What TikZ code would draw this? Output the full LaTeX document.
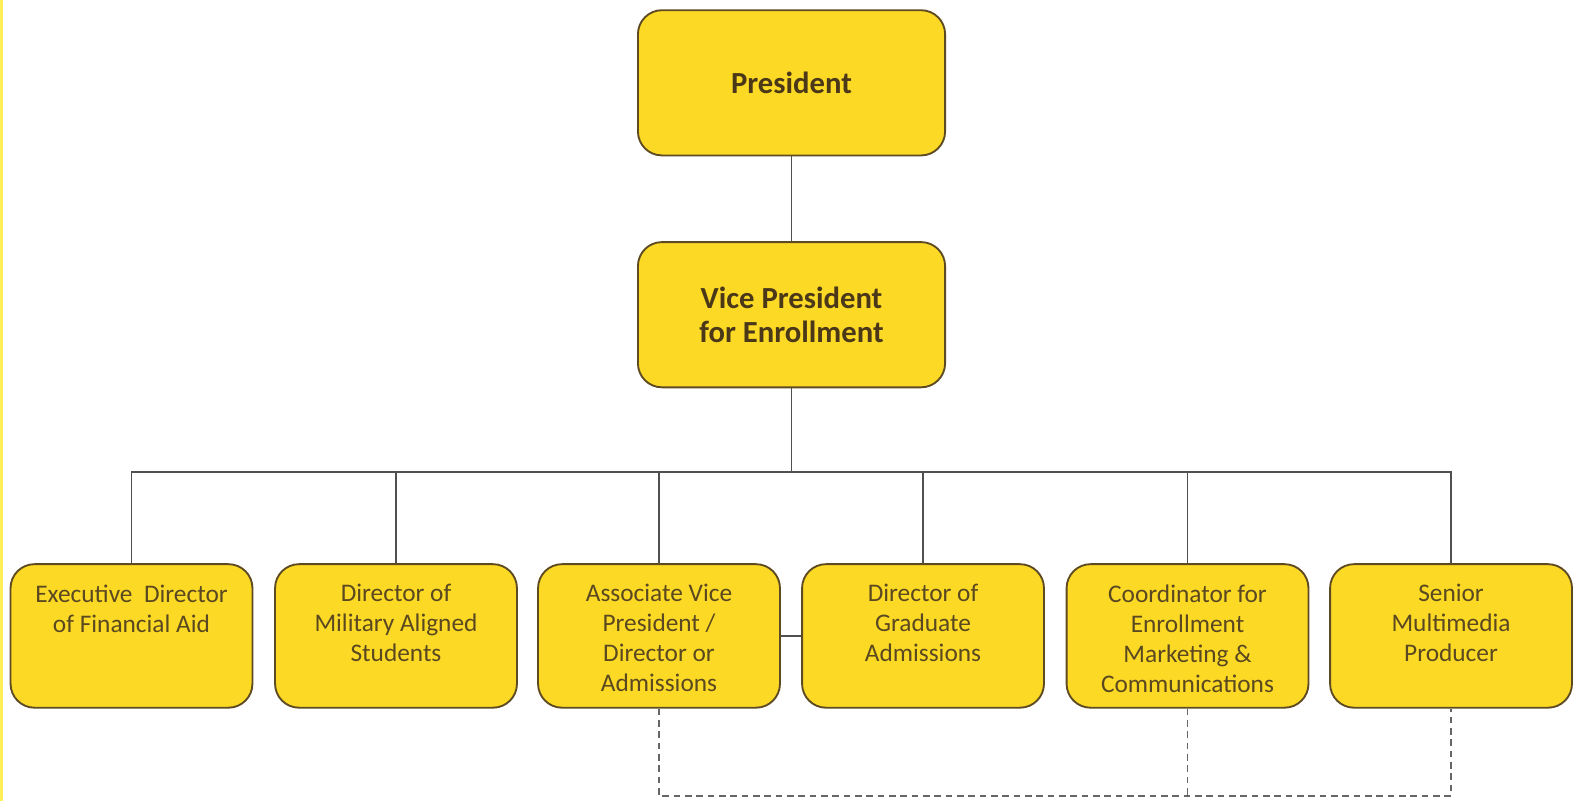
\documentclass[tikz,border=0pt]{standalone}
\usepackage{fontspec}
\setmainfont{Carlito}
\definecolor{boxfill}{HTML}{FCD925}
\definecolor{boxline}{HTML}{5E4B22}
\definecolor{connline}{HTML}{505050}
\definecolor{dashline}{HTML}{666666}
\definecolor{txtdark}{HTML}{4A3818}
\definecolor{txtsub}{HTML}{5A4820}
\definecolor{edgeyel}{HTML}{FFEE55}
\begin{document}
\begin{tikzpicture}[x=0.75bp,y=-0.75bp,
  box/.style={draw=boxline, line width=1.4pt, fill=boxfill, rounded corners=18pt, inner sep=0pt},
  bigbox/.style={box, minimum width=229.5bp, minimum height=108.5bp},
  smallbox/.style={box, minimum width=180.75bp, minimum height=107.25bp},
  conn/.style={draw=connline, line width=1.1pt},
  dconn/.style={draw=dashline, line width=1.1pt, dash pattern=on 5pt off 3.5pt},
  toptext/.style={font=\bfseries\fontsize{23}{25.5}\selectfont, text=txtdark, align=center},
  subtext/.style={font=\fontsize{19}{22.5}\selectfont, text=txtsub, align=center, anchor=north, inner sep=0pt}]
\useasboundingbox (0,0) rectangle (1569,798);
\fill[edgeyel] (0,0) rectangle (3,798);

\node[bigbox, toptext] (pres) at (788.5,82.5) {President};
\node[bigbox, toptext] (vp) at (788.5,313.5) {Vice President\\for Enrollment};

\node[smallbox] (b1) at (131,633.5) {};
\node[smallbox] (b2) at (394.5,633.5) {};
\node[smallbox] (b3) at (656.5,633.5) {};
\node[smallbox] (b4) at (919.5,633.5) {};
\node[smallbox] (b5) at (1183,633.5) {};
\node[smallbox] (b6) at (1445.5,633.5) {};

\node[subtext] (t1) at (131,582) {Executive\ \ Director\\of Financial Aid};
\node[subtext] (t2) at (394.5,582) {Director of\\Military Aligned\\Students};
\node[subtext] (t3) at (656.5,582) {Associate Vice\\President /\\Director or\\Admissions};
\node[subtext] (t4) at (919.5,582) {Director of\\Graduate\\Admissions};
\node[subtext] (t5) at (1183,582) {Coordinator for\\Enrollment\\Marketing \&\\Communications};
\node[subtext] (t6) at (1445.5,582) {Senior\\Multimedia\\Producer};

\coordinate (bus) at (788.5,470);
\coordinate (dl) at (788.5,793);

\draw[conn] (pres.south) -- (vp.north);
\draw[conn] (vp.south) -- (bus);
\draw[conn] (b1.north) -- (b1.north |- bus) -- (b6.north |- bus) -- (b6.north);
\draw[conn] (b2.north) -- (b2.north |- bus);
\draw[conn] (b3.north) -- (b3.north |- bus);
\draw[conn] (b4.north) -- (b4.north |- bus);
\draw[conn] (b5.north) -- (b5.north |- bus);
\draw[conn] (b3.east) -- (b4.west);

\draw[dconn] (b3.south) -- (b3.south |- dl) -- (b6.south |- dl) -- (b6.south);
\draw[dconn] (b5.south) -- (b5.south |- dl);
\end{tikzpicture}
\end{document}
